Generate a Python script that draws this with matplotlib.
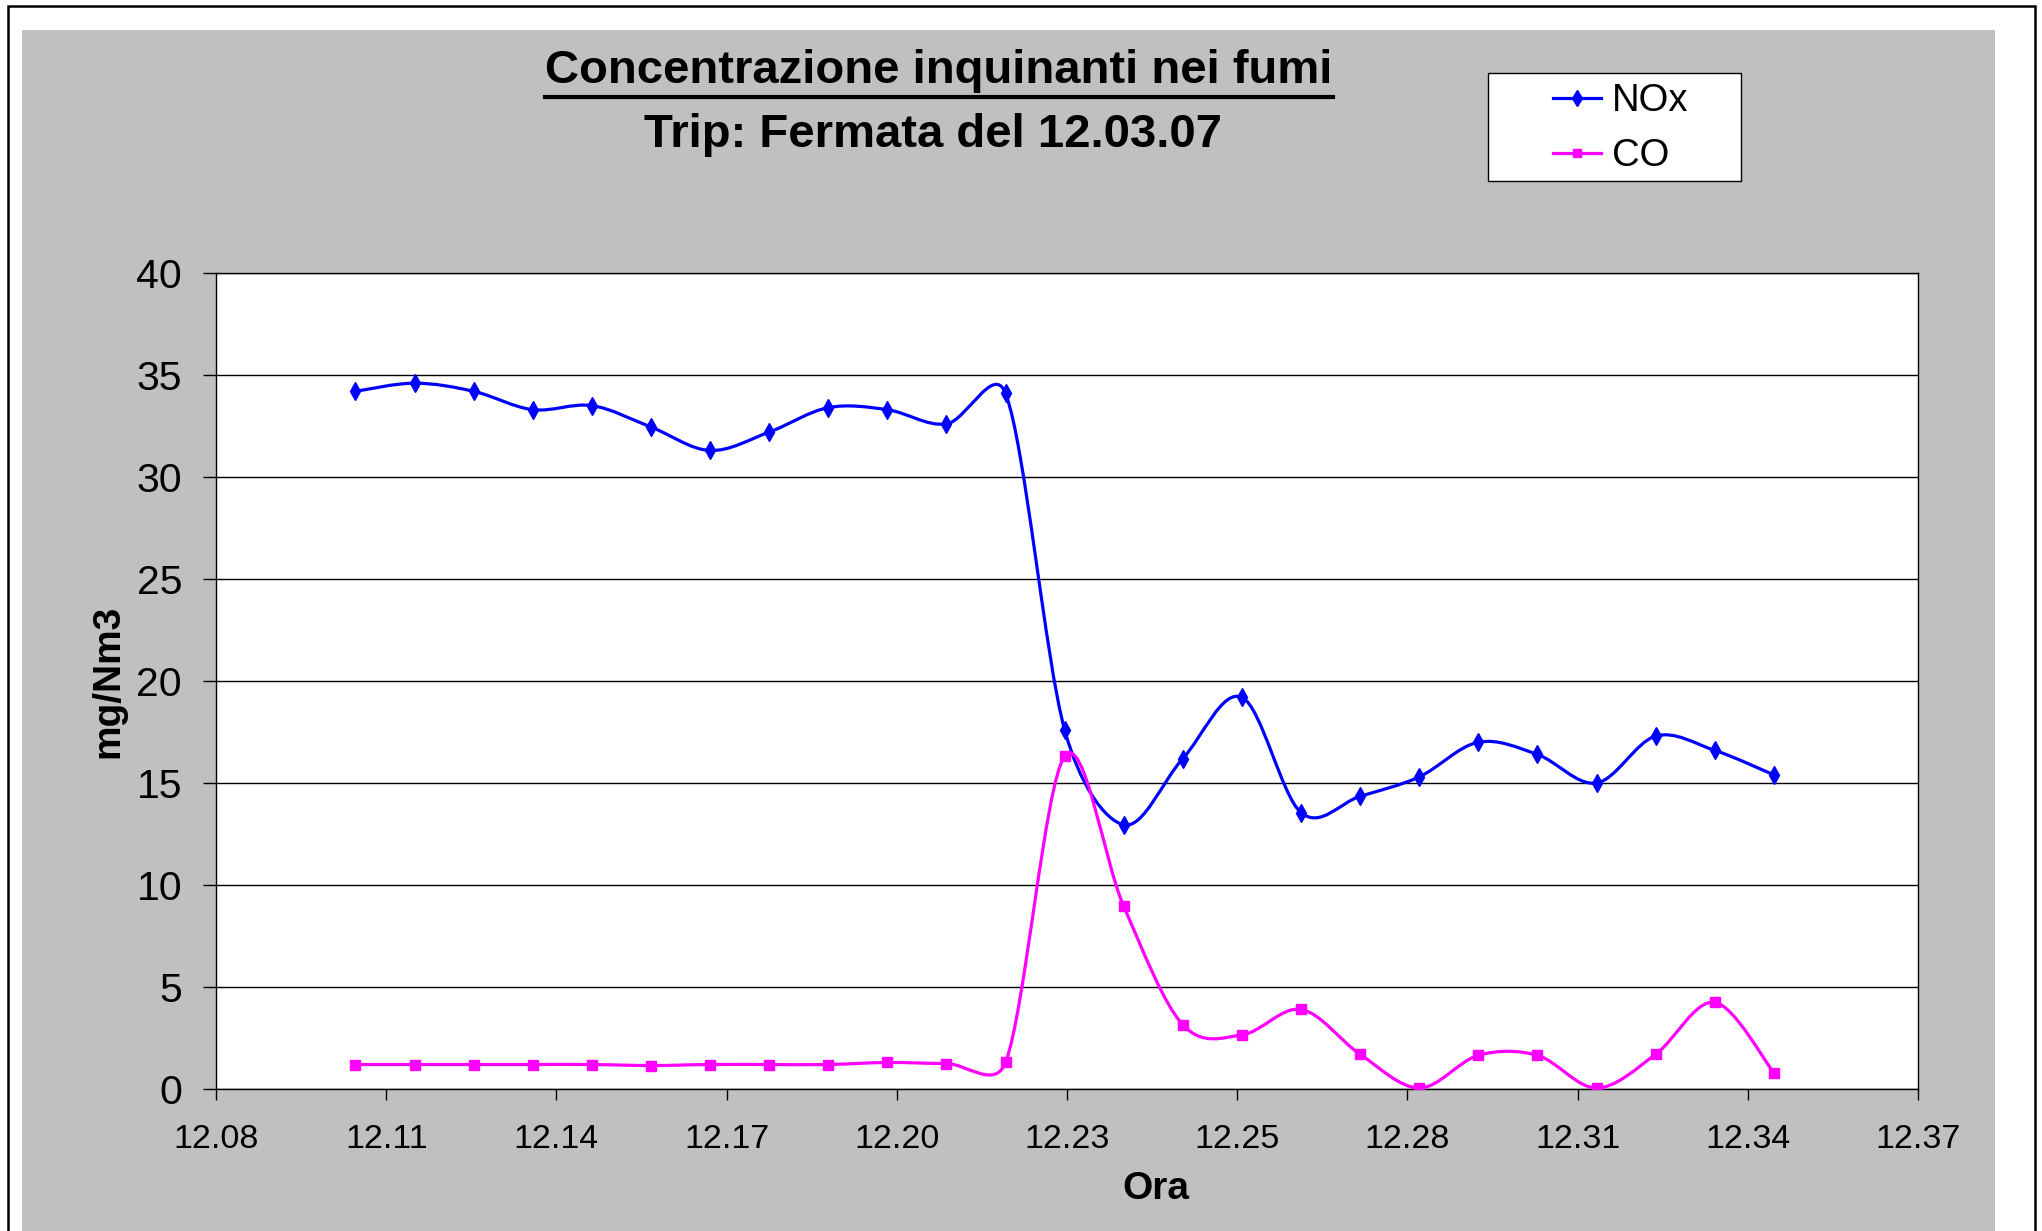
import numpy as np
import matplotlib
matplotlib.use("Agg")
import matplotlib.pyplot as plt
from matplotlib.path import Path
from matplotlib.patches import PathPatch, Rectangle
from matplotlib.lines import Line2D

plt.rcParams['font.family'] = ['Liberation Sans', 'DejaVu Sans']

# ---------------- data ----------------
times = ["12:11", "12:12", "12:13", "12:14", "12:15", "12:16", "12:17", "12:18",
         "12:19", "12:20", "12:21", "12:22", "12:23", "12:24", "12:25", "12:26",
         "12:27", "12:28", "12:29", "12:30", "12:31", "12:32", "12:33", "12:34",
         "12:35"]
nox = [34.2, 34.6, 34.2, 33.3, 33.5, 32.45, 31.3, 32.2, 33.4, 33.3, 32.6, 34.1,
       17.6, 12.95, 16.2, 19.2, 13.55, 14.35, 15.3, 17.0, 16.4, 15.0, 17.3, 16.6,
       15.4]
co = [1.2, 1.2, 1.2, 1.2, 1.2, 1.15, 1.2, 1.2, 1.2, 1.3, 1.25, 1.3,
      16.3, 8.95, 3.15, 2.65, 3.9, 1.7, 0.05, 1.65, 1.65, 0.05, 1.7, 4.25, 0.8]
xtick_labels = ["12.08", "12.11", "12.14", "12.17", "12.20", "12.23",
                "12.25", "12.28", "12.31", "12.34", "12.37"]
series_names = ["NOx", "CO"]
title_text = "Concentrazione inquinanti nei fumi"
subtitle_text = "Trip: Fermata del 12.03.07"

# time axis in fraction of day (Excel style)
x_min, x_max = 0.506, 0.526
xs = np.array([(int(t[:2]) * 60 + int(t[3:])) / 1440.0 for t in times])

W, H, DPI = 2042, 1231, 100
fig = plt.figure(figsize=(W / DPI, H / DPI), dpi=DPI, facecolor="white")

# chart-area grey background and outer frame
fig.patches.append(Rectangle((22 / W, -0.02), (1995 - 22) / W, (1231 - 30) / H + 0.02,
                             transform=fig.transFigure, facecolor="#C0C0C0",
                             edgecolor="none", zorder=-10))
fig.patches.append(Rectangle((8 / W, -0.02), (2035 - 8) / W, (1231 - 6) / H + 0.02,
                             transform=fig.transFigure, facecolor="none",
                             edgecolor="black", lw=1.8, zorder=-9))

left, right, top, bottom = 216, 1918, 273, 1089
ax = fig.add_axes([left / W, (H - bottom) / H, (right - left) / W, (bottom - top) / H])
ax.set_zorder(1)
ax.set_facecolor("white")
ax.set_xlim(x_min, x_max)
ax.set_ylim(0, 40)
ax.set_yticks(np.arange(0, 41, 5))
ax.set_xticks(np.linspace(x_min, x_max, len(xtick_labels)))
ax.set_xticklabels(xtick_labels)
ax.yaxis.grid(True, color="black", lw=1.0)
ax.set_axisbelow(True)
for s in ax.spines.values():
    s.set_color("black")
    s.set_linewidth(1.0)
ax.tick_params(axis="y", direction="out", length=9.4, width=1.0, pad=15, labelsize=29.5)
ax.tick_params(axis="x", direction="out", length=8, width=1.0, pad=17, labelsize=24.5)


def excel_smooth(ax, xv, yv):
    pts = ax.transData.transform(np.column_stack([xv, yv]))
    n = len(pts)
    verts = [pts[0]]
    codes = [Path.MOVETO]
    for i in range(n - 1):
        p0 = pts[i - 1] if i > 0 else pts[i]
        p1 = pts[i]
        p2 = pts[i + 1]
        p3 = pts[i + 2] if i + 2 < n else pts[i + 1]
        d02 = np.hypot(*(p2 - p0))
        d12 = np.hypot(*(p2 - p1))
        d13 = np.hypot(*(p3 - p1))
        f = g = 1.0 / 6.0
        if d02 > 0 and d02 / 6 >= d12 / 2:
            f = d12 / 2 / d02
        if d13 > 0 and d13 / 6 >= d12 / 2:
            g = d12 / 2 / d13
        c1 = p1 + f * (p2 - p0)
        c2 = p2 - g * (p3 - p1)
        verts += [c1, c2, p2]
        codes += [Path.CURVE4] * 3
    dv = ax.transData.inverted().transform(np.array(verts))
    return Path(dv, codes)


colors = ["#0000FF", "#FF00FF"]
markers = ["d", "s"]
msizes = [9, 6.8]
handles = []
for vals, c, m, ms, name in zip([nox, co], colors, markers, msizes, series_names):
    ax.add_patch(PathPatch(excel_smooth(ax, xs, np.array(vals)), fill=False,
                           edgecolor=c, lw=2.3, zorder=3))
    ax.plot(xs, vals, ls="none", marker=m, ms=ms, color=c, mec=c, zorder=4)
    handles.append(Line2D([], [], color=c, lw=2.3, marker=m, ms=ms * 0.85, mec=c))

ax.set_ylabel("mg/Nm3", fontsize=28, fontweight="bold", va="center")
ax.yaxis.set_label_coords((108 - left) / (right - left), 0.5)
ax.set_xlabel("Ora", fontsize=28, fontweight="bold", va="center")
ax.xaxis.set_label_coords((1156 - left) / (right - left), (bottom - 1189) / (bottom - top))

# titles
t1 = fig.text(939 / W, (H - 83) / H, title_text, fontsize=34, fontweight="bold",
              ha="center", va="baseline")
fig.text(933 / W, (H - 147) / H, subtitle_text, fontsize=34, fontweight="bold",
         ha="center", va="baseline")
fig.canvas.draw()
bb = t1.get_window_extent(fig.canvas.get_renderer())
fig.add_artist(Line2D([bb.x0 / W, bb.x1 / W], [(H - 97) / H] * 2,
                      transform=fig.transFigure, color="black", lw=3.0))

# legend
fig.patches.append(Rectangle((1488 / W, (H - 181) / H), (1741 - 1488) / W, (181 - 73) / H,
                             transform=fig.transFigure, facecolor="white",
                             edgecolor="black", lw=1.0, zorder=2))
leg = fig.legend(handles, series_names, loc="center left",
                 bbox_to_anchor=(1553 / W, (H - 128.7) / H), frameon=False,
                 fontsize=27.5, borderpad=0, handlelength=1.25, handletextpad=0.3,
                 labelspacing=0.5, numpoints=1, borderaxespad=0)
leg.set_zorder(5)

fig.savefig("out.png", dpi=DPI, facecolor="white")
